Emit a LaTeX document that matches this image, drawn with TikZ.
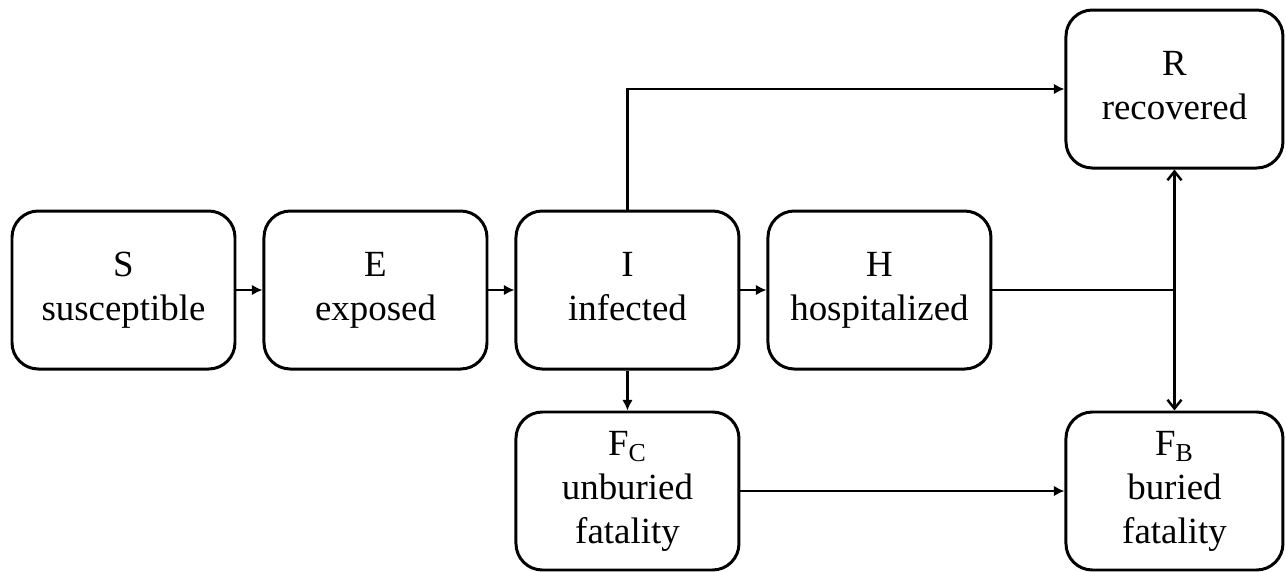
\documentclass[tikz,border=0pt]{standalone}
\usepackage{fontspec}
\setmainfont{Liberation Serif}
\usetikzlibrary{positioning,arrows.meta}

\begin{document}
\begin{tikzpicture}[
  compbox/.style={draw, line width=1.7pt, rounded corners=15pt, fill=white,
               minimum width=4.46cm, minimum height=3.16cm, align=center,
               inner sep=2pt, font=\fontsize{21}{25}\selectfont},
  arr/.style={-{Latex[length=6pt,width=6pt]}, line width=1.4pt},
  barb/.style={-{Straight Barb[length=5pt,width=8pt]}, line width=1.4pt},
  node distance=0.52cm
]
  \useasboundingbox (0,0) rectangle (25.72,-11.42);

  \node[compbox] (S) at (2.47,-5.8) {\strut S\\susceptible\strut};
  \node[compbox, right=of S] (E) {\strut E\\exposed\strut};
  \node[compbox, right=of E] (I) {\strut I\\infected\strut};
  \node[compbox, right=of I] (H) {\strut H\\hospitalized\strut};

  \node[compbox, below=0.8cm of I] (FC)
    {\strut F\textsubscript{C}\\unburied\\fatality\strut};
  \node[compbox, minimum width=4.34cm, right=6.48cm of FC] (FB)
    {\strut F\textsubscript{B}\\buried\\fatality\strut};
  \node[compbox, minimum width=4.34cm, above=4.82cm of FB] (R)
    {\strut R\\recovered\strut};

  \coordinate (jn) at (H.east -| FB.north);

  \draw[arr] (S) -- (E);
  \draw[arr] (E) -- (I);
  \draw[arr] (I) -- (H);
  \draw[arr] (I.north) |- (R.west);
  \draw[arr] (I) -- (FC);
  \draw[arr] (FC) -- (FB);
  \draw[line width=1.4pt] (H.east) -- (jn);
  \draw[barb] (jn) -- (R.south);
  \draw[barb] (jn) -- (FB.north);
\end{tikzpicture}
\end{document}
